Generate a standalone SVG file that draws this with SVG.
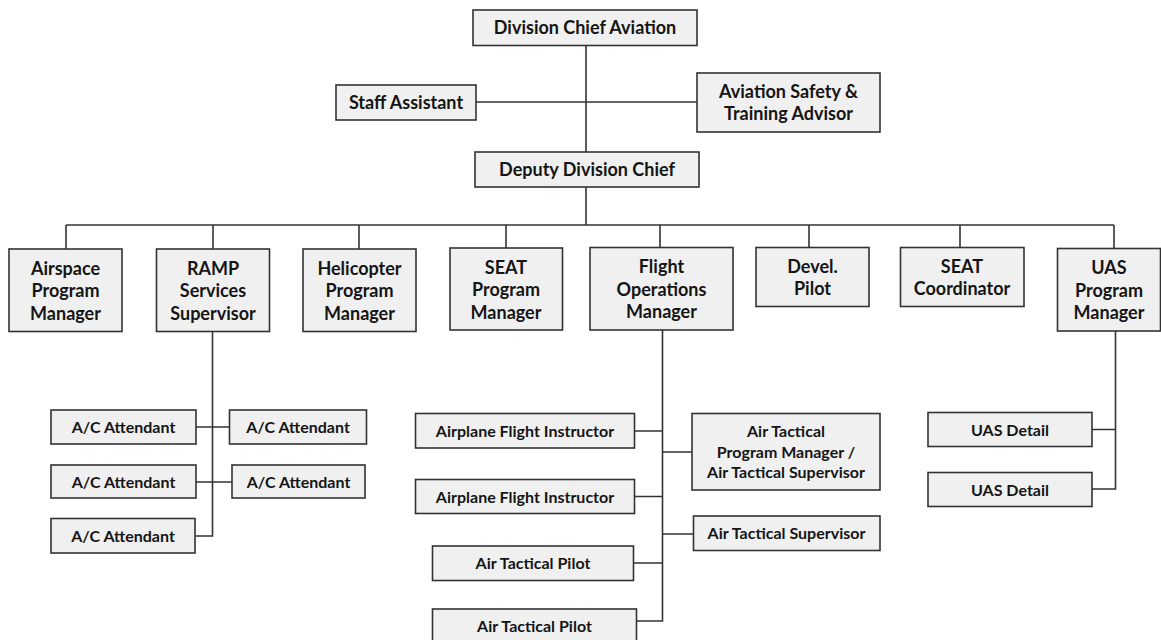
<svg xmlns="http://www.w3.org/2000/svg" width="1161" height="640" viewBox="0 0 1161 640">
<style>
rect.box { fill: #f0f0f0; stroke: #333333; stroke-width: 1.6; }
text { font-family: Lato, "Open Sans", "Liberation Sans", sans-serif; font-weight: 700; fill: #151515; text-anchor: middle; }
text.t { font-size: 18px; }
text.s { font-size: 16px; }
#connectors path { fill: none; stroke: #333333; stroke-width: 1.6; }
</style>
<rect width="1161" height="640" fill="#ffffff"/>
<g id="connectors">
  <path d="M586 46 V152 M476 102 H697 M586 187 V225 M66 225 H1114"/>
  <path d="M66 225 V249 M213 225 V249 M359 225 V249 M506 225 V248 M660 225 V248 M809 225 V248 M960 225 V248 M1114 225 V249"/>
  <path d="M212.5 331 V536 H195 M196 427 H229 M196 482 H232"/>
  <path d="M662.5 330 V621 H636 M635 431 H662.5 M662.5 452 H692 M635 496.5 H662.5 M662.5 534 H693 M633 563 H662.5"/>
  <path d="M1115.5 331 V489 H1092 M1092 429.5 H1115.5"/>
</g>
<g id="division-chief">
  <rect class="box" x="473" y="10" width="224" height="35.5"/>
  <text class="t" x="585" y="34">Division Chief Aviation</text>
</g>
<g id="staff-assistant">
  <rect class="box" x="336" y="85" width="140" height="35"/>
  <text class="t" x="406" y="109">Staff Assistant</text>
</g>
<g id="aviation-safety">
  <rect class="box" x="697" y="73" width="183" height="59"/>
  <text class="t" x="788.5" y="98">Aviation Safety &amp;</text>
  <text class="t" x="788.5" y="119.5">Training Advisor</text>
</g>
<g id="deputy-chief">
  <rect class="box" x="475" y="152" width="224" height="35"/>
  <text class="t" x="587" y="176">Deputy Division Chief</text>
</g>
<g id="airspace">
  <rect class="box" x="9" y="249" width="113" height="82.5"/>
  <text class="t" x="65.5" y="274.5">Airspace</text>
  <text class="t" x="65.5" y="297">Program</text>
  <text class="t" x="65.5" y="319.5">Manager</text>
</g>
<g id="ramp">
  <rect class="box" x="156.5" y="249" width="113" height="82.5"/>
  <text class="t" x="213" y="274.5">RAMP</text>
  <text class="t" x="213" y="297">Services</text>
  <text class="t" x="213" y="319.5">Supervisor</text>
</g>
<g id="helicopter">
  <rect class="box" x="303" y="249" width="113" height="82.5"/>
  <text class="t" x="359.5" y="274.5">Helicopter</text>
  <text class="t" x="359.5" y="297">Program</text>
  <text class="t" x="359.5" y="319.5">Manager</text>
</g>
<g id="seat-program">
  <rect class="box" x="450" y="248" width="112.5" height="82"/>
  <text class="t" x="506" y="273.5">SEAT</text>
  <text class="t" x="506" y="296">Program</text>
  <text class="t" x="506" y="318.5">Manager</text>
</g>
<g id="flight-ops">
  <rect class="box" x="590" y="247.5" width="143" height="82.5"/>
  <text class="t" x="661.5" y="273">Flight</text>
  <text class="t" x="661.5" y="295.5">Operations</text>
  <text class="t" x="661.5" y="318">Manager</text>
</g>
<g id="devel-pilot">
  <rect class="box" x="756" y="247.5" width="113" height="59"/>
  <text class="t" x="812.5" y="273">Devel.</text>
  <text class="t" x="812.5" y="295">Pilot</text>
</g>
<g id="seat-coordinator">
  <rect class="box" x="900.5" y="247.5" width="123.5" height="59"/>
  <text class="t" x="962" y="273">SEAT</text>
  <text class="t" x="962" y="295">Coordinator</text>
</g>
<g id="uas-program">
  <rect class="box" x="1057.5" y="248.5" width="103" height="82.5"/>
  <text class="t" x="1109" y="274">UAS</text>
  <text class="t" x="1109" y="296.5">Program</text>
  <text class="t" x="1109" y="319">Manager</text>
</g>
<g id="ac-attendant-1">
  <rect class="box" x="51" y="410" width="145" height="34"/>
  <text class="s" x="123.5" y="433">A/C Attendant</text>
</g>
<g id="ac-attendant-2">
  <rect class="box" x="229.5" y="410" width="137" height="34"/>
  <text class="s" x="298" y="433">A/C Attendant</text>
</g>
<g id="ac-attendant-3">
  <rect class="box" x="51" y="465" width="145" height="33"/>
  <text class="s" x="123.5" y="487.5">A/C Attendant</text>
</g>
<g id="ac-attendant-4">
  <rect class="box" x="232" y="465" width="133" height="33"/>
  <text class="s" x="298.5" y="487.5">A/C Attendant</text>
</g>
<g id="ac-attendant-5">
  <rect class="box" x="51" y="518.5" width="144" height="34.5"/>
  <text class="s" x="123" y="541.5">A/C Attendant</text>
</g>
<g id="airplane-instructor-1">
  <rect class="box" x="415.5" y="413.5" width="219" height="34.5"/>
  <text class="s" x="525" y="436.5">Airplane Flight Instructor</text>
</g>
<g id="airplane-instructor-2">
  <rect class="box" x="415.5" y="479.5" width="219" height="34"/>
  <text class="s" x="525" y="502.5">Airplane Flight Instructor</text>
</g>
<g id="air-tactical-pilot-1">
  <rect class="box" x="432.5" y="546" width="201" height="34.5"/>
  <text class="s" x="533" y="569">Air Tactical Pilot</text>
</g>
<g id="air-tactical-pilot-2">
  <rect class="box" x="432.5" y="609" width="204" height="36"/>
  <text class="s" x="534.5" y="631.5">Air Tactical Pilot</text>
</g>
<g id="air-tactical-pm">
  <rect class="box" x="692" y="413.5" width="188" height="76.5"/>
  <text class="s" x="786" y="436.5">Air Tactical</text>
  <text class="s" x="786" y="457.5">Program Manager /</text>
  <text class="s" x="786" y="478">Air Tactical Supervisor</text>
</g>
<g id="air-tactical-supervisor">
  <rect class="box" x="693.5" y="516" width="186.5" height="34.5"/>
  <text class="s" x="786.5" y="539">Air Tactical Supervisor</text>
</g>
<g id="uas-detail-1">
  <rect class="box" x="928" y="412.5" width="164" height="34"/>
  <text class="s" x="1010" y="435.5">UAS Detail</text>
</g>
<g id="uas-detail-2">
  <rect class="box" x="928" y="472.5" width="164" height="34"/>
  <text class="s" x="1010" y="495.5">UAS Detail</text>
</g>
</svg>
